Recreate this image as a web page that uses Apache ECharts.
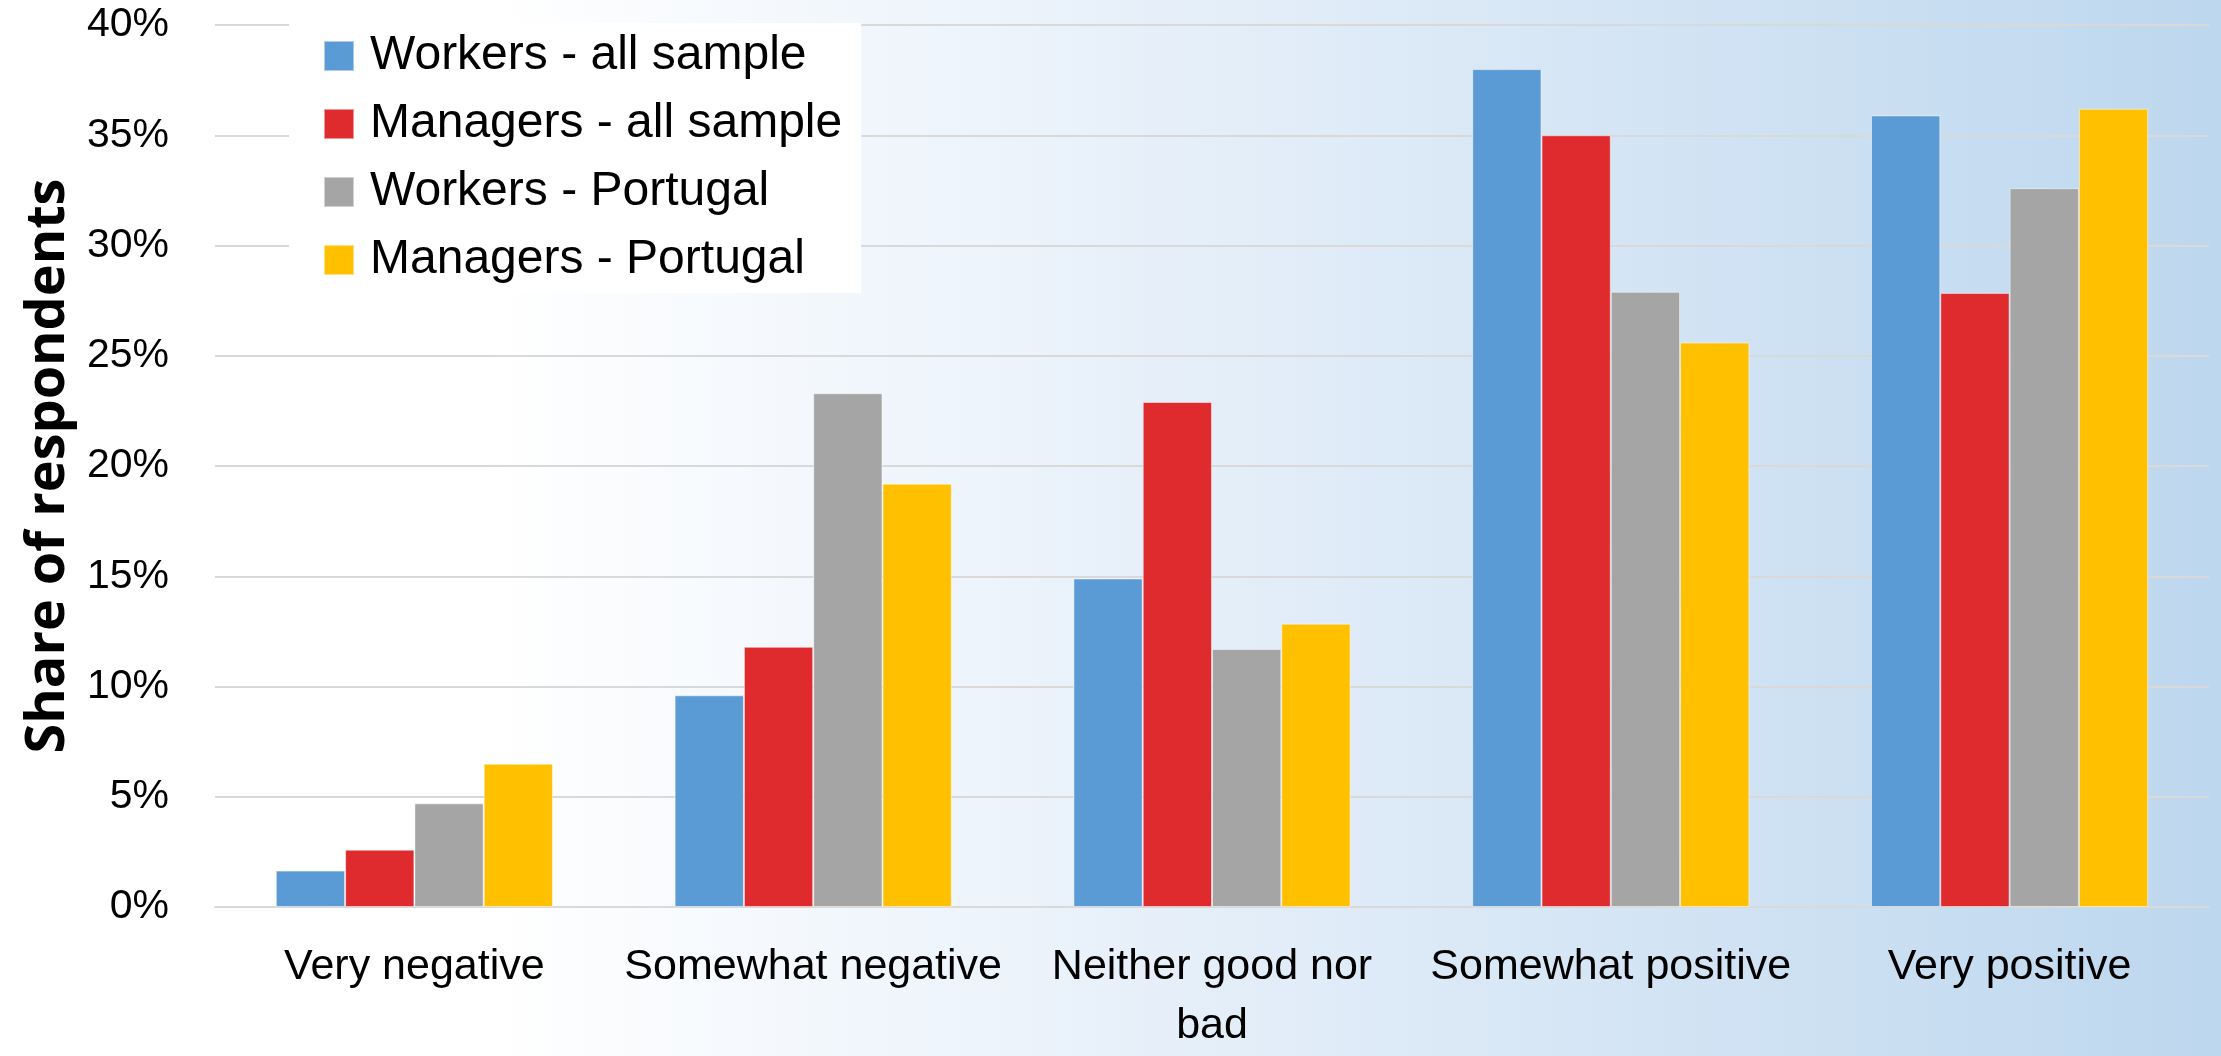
<!DOCTYPE html>
<html>
<head>
<meta charset="utf-8">
<script src="https://cdn.jsdelivr.net/npm/echarts@6/dist/echarts.min.js"></script>
<style>
  html, body { margin: 0; padding: 0; }
  #chart { width: 2221px; height: 1056px; }
</style>
</head>
<body>
<div id="chart"></div>
<script>
// Attitude categories on the x axis
const categories = ['Very negative', 'Somewhat negative', 'Neither good nor\nbad', 'Somewhat positive', 'Very positive'];

// Share of respondents (%) per group
const workersAll = [1.65, 9.6, 14.9, 38.0, 35.9];
const managersAll = [2.6, 11.8, 22.9, 35.0, 27.85];
const workersPortugal = [4.7, 23.3, 11.7, 27.9, 32.6];
const managersPortugal = [6.5, 19.2, 12.85, 25.6, 36.2];

const seriesNames = ['Workers - all sample', 'Managers - all sample', 'Workers - Portugal', 'Managers - Portugal'];
const seriesColors = ['#5B9BD5', '#E02B2E', '#A5A5A5', '#FFC000'];
const seriesData = [workersAll, managersAll, workersPortugal, managersPortugal];

const labelFont = '"Liberation Sans", Arial, sans-serif';

const chart = echarts.init(document.getElementById('chart'));
chart.setOption({
  animation: false,
  backgroundColor: {
    type: 'linear', x: 0, y: 0, x2: 1, y2: 0,
    colorStops: [
      { offset: 0, color: '#FFFFFF' },
      { offset: 0.22, color: '#FFFFFF' },
      { offset: 0.55, color: '#E4EEF9' },
      { offset: 1, color: '#BDD7EE' }
    ]
  },
  grid: { left: 215, right: 12, top: 25, bottom: 141, containLabel: false },
  legend: {
    orient: 'vertical',
    left: 289,
    top: 23,
    backgroundColor: '#FFFFFF',
    padding: [9, 19, 9, 34],
    itemWidth: 30,
    itemHeight: 30,
    itemGap: 20,
    icon: 'rect',
    textStyle: { fontFamily: labelFont, fontSize: 48, color: '#000', lineHeight: 48, padding: [0, 0, 0, 11] },
    data: seriesNames
  },
  xAxis: {
    type: 'category',
    data: categories,
    axisLine: { show: true, lineStyle: { color: '#D9D9D9', width: 2 } },
    axisTick: { show: false },
    axisLabel: { fontFamily: labelFont, fontSize: 43, color: '#000', lineHeight: 59, margin: 31, interval: 0 }
  },
  yAxis: {
    type: 'value',
    min: 0,
    max: 40,
    interval: 5,
    name: 'Share of respondents',
    nameLocation: 'middle',
    nameRotate: 90,
    nameGap: 128,
    nameTextStyle: { fontFamily: '"Open Sans", sans-serif', fontWeight: 'bold', fontSize: 54, color: '#000' },
    axisLine: { show: false },
    axisTick: { show: false },
    splitLine: { lineStyle: { color: '#D9D9D9', width: 2 } },
    axisLabel: { fontFamily: labelFont, fontSize: 41, color: '#000', margin: 46, formatter: '{value}%' }
  },
  series: seriesNames.map((name, i) => ({
    name: name,
    type: 'bar',
    data: seriesData[i],
    barGap: '0%',
    barCategoryGap: '30.5%',
    itemStyle: { color: seriesColors[i], borderColor: 'rgba(255,255,255,0.5)', borderWidth: 1 }
  }))
});
</script>
</body>
</html>
